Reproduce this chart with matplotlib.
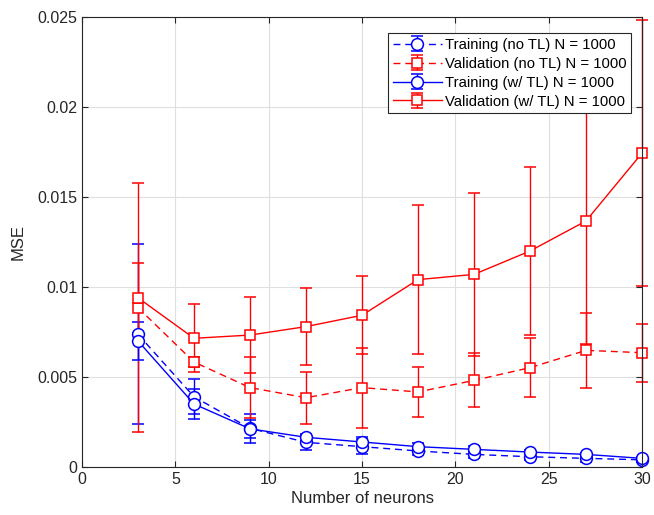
import matplotlib

matplotlib.use("Agg")
import matplotlib.pyplot as plt

plt.rcParams["font.family"] = ["Liberation Sans", "DejaVu Sans"]

# data
neurons = [3, 6, 9, 12, 15, 18, 21, 24, 27, 30]

train_no_tl = [0.00737, 0.0039, 0.00215, 0.00137, 0.00113, 0.00089, 0.0007, 0.00057, 0.00048, 0.0004]
train_no_tl_err = [0.005, 0.00097, 0.0008, 0.0004, 0.0004, 0.0002, 0.0002, 0.0002, 0.0002, 0.0001]

val_no_tl = [0.00885, 0.00583, 0.00441, 0.00385, 0.00441, 0.00417, 0.00481, 0.00552, 0.00648, 0.00635]
val_no_tl_err = [0.0069, 0.0003, 0.0017, 0.00145, 0.00222, 0.0014, 0.0015, 0.00165, 0.0021, 0.0016]

train_tl = [0.0070, 0.0035, 0.00212, 0.00165, 0.00139, 0.00113, 0.00098, 0.00083, 0.0007, 0.00048]
train_tl_err = [0.00107, 0.00082, 0.0005, 0.0002, 0.0003, 0.0002, 0.0002, 0.0001, 0.0001, 0.0001]

val_tl = [0.0094, 0.00715, 0.00733, 0.0078, 0.00843, 0.01041, 0.0107, 0.012, 0.01367, 0.01744]
val_tl_err = [0.00194, 0.00189, 0.0021, 0.00216, 0.00216, 0.00414, 0.00452, 0.00465, 0.00682, 0.00737]

x_ticks = [0, 5, 10, 15, 20, 25, 30]
y_ticks = [0, 0.005, 0.01, 0.015, 0.02, 0.025]
y_tick_labels = ["0", "0.005", "0.01", "0.015", "0.02", "0.025"]

series = [
    (train_no_tl, train_no_tl_err, "blue", "o", (0, (5, 3.5)), "Training (no TL) N = 1000"),
    (val_no_tl, val_no_tl_err, "red", "s", (0, (5, 3.5)), "Validation (no TL) N = 1000"),
    (train_tl, train_tl_err, "blue", "o", "-", "Training (w/ TL) N = 1000"),
    (val_tl, val_tl_err, "red", "s", "-", "Validation (w/ TL) N = 1000"),
]

fig = plt.figure(figsize=(6.54, 5.15), dpi=100)
ax = fig.add_axes([0.1254, 0.0932, 0.8563, 0.8738])

for vals, errs, col, mk, ls, lab in series:
    ms = 8.5 if mk == "o" else 6.8
    cont = ax.errorbar(
        neurons, vals, yerr=errs, color=col, linestyle=ls, linewidth=1.0,
        marker=mk, markersize=ms, markerfacecolor="white", markeredgecolor=col,
        markeredgewidth=1.1, capsize=4, elinewidth=1.0, capthick=1.0, label=lab,
    )
    for art in [cont.lines[0], *cont.lines[1], *cont.lines[2]]:
        art.set_clip_on(False)

ax.set_xlim(0, 30)
ax.set_ylim(0, 0.025)
ax.set_xticks(x_ticks)
ax.set_yticks(y_ticks)
ax.set_yticklabels(y_tick_labels)
ax.tick_params(direction="in", top=True, right=True, labelsize=11.5,
               color="#262626", labelcolor="#262626", length=4)
for sp in ax.spines.values():
    sp.set_color("#262626")
    sp.set_linewidth(0.8)
ax.grid(True, color="#dfdfdf", linewidth=0.8)
ax.set_axisbelow(True)

ax.set_xlabel("Number of neurons", fontsize=12, color="#262626", labelpad=3)
ax.set_ylabel("MSE", fontsize=12, color="#262626", labelpad=8)

leg = ax.legend(loc="upper right", bbox_to_anchor=(0.985, 0.97), fontsize=10.7,
                frameon=True, fancybox=False, framealpha=1, edgecolor="#262626",
                borderpad=0.3, labelspacing=0.33, handlelength=3.3, handletextpad=0.2,
                borderaxespad=0.2)
leg.get_frame().set_linewidth(0.8)

fig.savefig("out.png", dpi=100)
plt.close(fig)
